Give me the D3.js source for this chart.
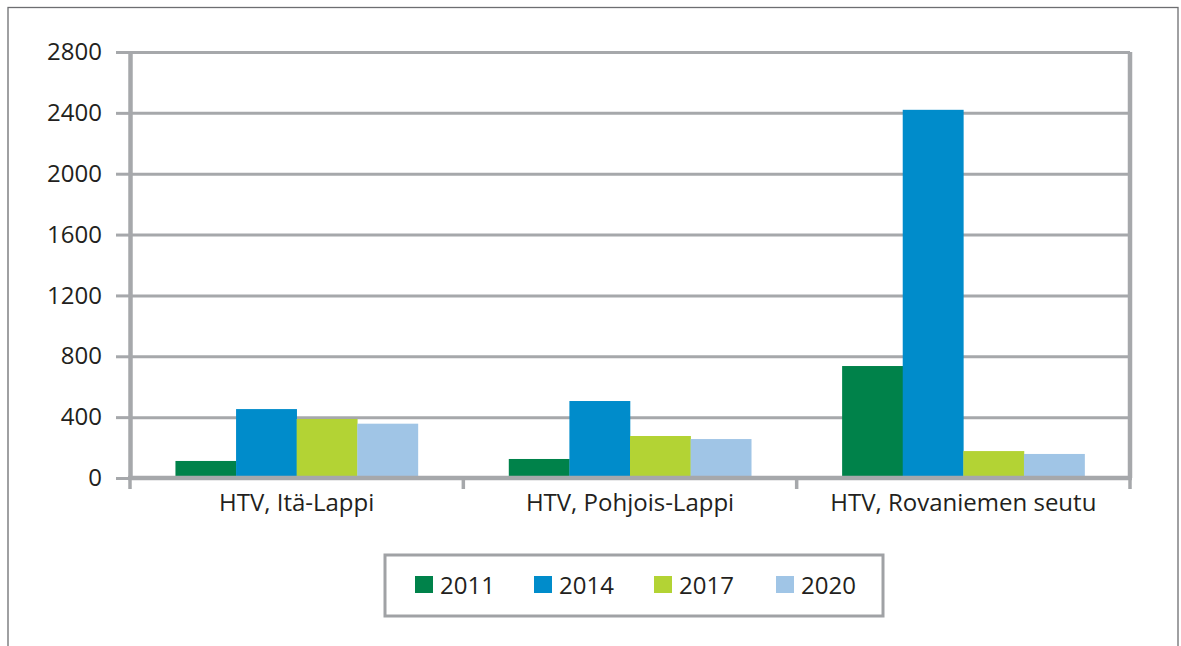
<!DOCTYPE html>
<html>
<head>
<meta charset="utf-8">
<script src="https://cdn.jsdelivr.net/npm/d3@7"></script>
<style>
  html, body { margin: 0; padding: 0; background: #ffffff; }
  svg { display: block; }
  text { font-family: "Open Sans", "Noto Sans", sans-serif; fill: #231f20; }
</style>
</head>
<body>
<svg id="chart" width="1181" height="646"></svg>
<script>
// ---- Data ----
const categories = ["HTV, Itä-Lappi", "HTV, Pohjois-Lappi", "HTV, Rovaniemen seutu"];
const years = ["2011", "2014", "2017", "2020"];
const values2011 = [112, 125, 736];
const values2014 = [453, 506, 2420];
const values2017 = [388, 276, 177];
const values2020 = [357, 256, 158];
const yTicks = [0, 400, 800, 1200, 1600, 2000, 2400, 2800];
const colors = ["#00824a", "#008ccb", "#b3d334", "#a0c5e6"];

const seriesValues = [values2011, values2014, values2017, values2020];

// ---- Layout ----
const svg = d3.select("#chart");
const plot = { left: 130, right: 1130, top: 52, bottom: 478 };
const gridColor = "#a6a8ab";
const fontSize = 24;

// outer frame
svg.append("rect")
  .attr("x", 8).attr("y", 7.5)
  .attr("width", 1170).attr("height", 700)
  .attr("fill", "none")
  .attr("stroke", "#6d6e71")
  .attr("stroke-width", 1.3);

const x0 = d3.scaleBand().domain(categories).range([plot.left, plot.right]).padding(0);
const x1 = d3.scaleBand().domain(years).range([0, x0.bandwidth()]).paddingInner(0).paddingOuter(0.75);
const y = d3.scaleLinear().domain([0, 2800]).range([plot.bottom, plot.top]);

// gridlines
const grid = svg.append("g")
  .attr("transform", `translate(${plot.left},0)`)
  .call(d3.axisLeft(y).tickValues(yTicks).tickSize(-(plot.right - plot.left)).tickFormat(""));
grid.select(".domain").remove();
grid.selectAll(".tick line").attr("stroke", gridColor).attr("stroke-width", 3);

// right border of plot
svg.append("line")
  .attr("x1", x0.range()[1]).attr("x2", x0.range()[1])
  .attr("y1", y(2800)).attr("y2", y(0))
  .attr("stroke", gridColor).attr("stroke-width", 4.5);

// bars
const groups = svg.append("g").selectAll("g")
  .data(categories)
  .join("g")
  .attr("transform", d => `translate(${x0(d)},0)`);

groups.selectAll("rect")
  .data((d, i) => years.map((yr, s) => ({ yr, s, v: seriesValues[s][i] })))
  .join("rect")
  .attr("x", d => x1(d.yr))
  .attr("y", d => y(d.v))
  .attr("width", x1.bandwidth() + 0.3)
  .attr("height", d => y(0) - y(d.v))
  .attr("fill", d => colors[d.s]);

// y axis
const yAxis = svg.append("g")
  .attr("transform", `translate(${plot.left},0)`)
  .call(d3.axisLeft(y).tickValues(yTicks).tickSize(14).tickSizeOuter(0).tickPadding(14).tickFormat(d3.format("d")));
yAxis.select(".domain").attr("stroke", gridColor).attr("stroke-width", 4.5);
yAxis.selectAll(".tick line").attr("stroke", gridColor).attr("stroke-width", 3);
yAxis.selectAll(".tick text")
  .style("font-size", fontSize + "px")
  .attr("fill", "#231f20");

// x axis (labels at band centers)
const xAxis = svg.append("g")
  .attr("transform", `translate(0,${plot.bottom})`)
  .call(d3.axisBottom(x0).tickSize(0).tickSizeOuter(0).tickPadding(16));
xAxis.select(".domain").remove();
xAxis.selectAll(".tick text")
  .style("font-size", fontSize + "px")
  .attr("fill", "#231f20");

// x axis line
svg.append("line")
  .attr("x1", plot.left - 2).attr("x2", plot.right + 2)
  .attr("y1", y(0)).attr("y2", y(0))
  .attr("stroke", gridColor).attr("stroke-width", 4.5);

// category boundary ticks
const boundaries = categories.map(c => x0(c)).concat([x0.range()[1]]);
svg.append("g").selectAll("line")
  .data(boundaries)
  .join("line")
  .attr("x1", d => d).attr("x2", d => d)
  .attr("y1", y(0)).attr("y2", y(0) + 11)
  .attr("stroke", gridColor).attr("stroke-width", 3.5);

// legend
const legend = svg.append("g");
legend.append("rect")
  .attr("x", 385).attr("y", 555)
  .attr("width", 498).attr("height", 61)
  .attr("fill", "#ffffff")
  .attr("stroke", "#a0a2a5")
  .attr("stroke-width", 3);

const legendX = [415, 534, 654, 776];
const items = legend.selectAll("g.item")
  .data(years)
  .join("g")
  .attr("class", "item")
  .attr("transform", (d, i) => `translate(${legendX[i]},576)`);
items.append("rect")
  .attr("width", 18).attr("height", 17)
  .attr("fill", (d, i) => colors[i]);
items.append("text")
  .attr("x", 25).attr("y", 17.5)
  .style("font-size", fontSize + "px")
  .text(d => d);
</script>
</body>
</html>
